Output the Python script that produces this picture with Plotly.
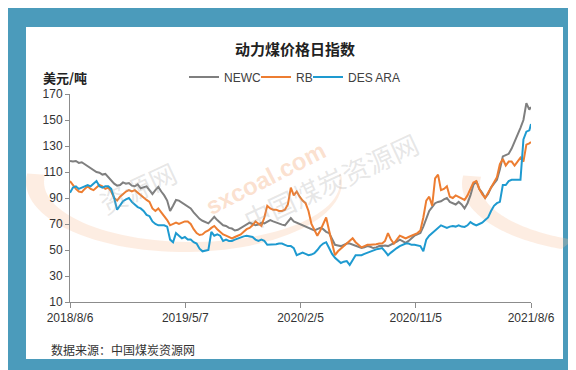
import numpy as np
import pandas as pd
import plotly.graph_objects as go

# weekly dates from 2018-08-06, last point 2021-08-06
dates = list(pd.date_range("2018-08-06", periods=157, freq="7D").strftime("%Y-%m-%d")) + ["2021-08-06"]

newc = [118.5, 118, 118.5, 117, 117.5, 116, 114.5, 113, 112, 110,
        109.5, 108, 108.5, 106, 104, 101, 99.5, 100, 102, 101,
        101.5, 99.5, 99, 100.5, 97.5, 98, 99, 96, 93, 96,
        98.5, 95, 92, 88, 80, 84, 88.5, 88, 86.5, 85,
        84, 82, 79, 76.5, 74, 72.5, 71.5, 70.5, 73, 75.5,
        73, 71, 69, 68.5, 67, 66.5, 65, 65.5, 67, 68.5,
        70, 71, 70, 69, 69.5, 71, 70.5, 72, 73, 72,
        71, 70, 69.5, 69, 72, 74.5, 72, 71, 70, 69,
        68, 67, 66, 65, 66, 67, 66, 64, 63, 59,
        54, 53.5, 53, 54, 55, 55, 54, 53, 52.5, 51.5,
        52, 53, 52.5, 51.5, 52, 53, 53, 53.5, 53, 54,
        55, 56.5, 58, 57, 55.5, 57, 59, 61, 62, 63,
        68, 74, 80, 83, 86, 87, 87.5, 89, 90, 87,
        86, 85, 87, 85, 82, 86, 92, 100, 103, 97,
        94, 90, 93, 98, 101, 104, 112, 122, 123, 124,
        128, 133, 138, 144, 150, 163, 158, 160]

rb = [103, 100, 97, 95, 94.5, 97, 99, 97, 96, 98,
      100, 99, 97, 98, 95, 90, 88, 91, 93, 95,
      96, 95, 96, 94, 92, 90, 88.5, 87, 82, 80,
      82, 79, 76, 73, 69, 70, 71, 70, 71, 72,
      72, 70, 66, 63, 61.5, 62, 64, 65, 67, 68.5,
      66, 64, 62, 61, 60, 59, 60, 61, 62, 64,
      66, 67, 69, 72, 70, 68.5, 75, 84, 82, 81,
      81, 80, 80, 81, 85, 98, 92, 95, 91, 88,
      86, 80, 70, 65, 61, 65, 70, 75, 65, 55,
      46, 49, 51, 53, 55, 57, 59, 56, 54, 52,
      53, 54, 54, 54, 54.5, 55, 55, 57, 63, 58,
      55, 58, 61, 60, 59, 60, 61, 62, 63, 65,
      75, 88, 91, 84, 105, 108, 96, 97, 99, 91,
      90, 92, 91, 90, 88.5, 92, 97, 102, 103, 97,
      93, 90, 94, 98, 103, 106, 116, 120, 115, 118,
      118, 115, 118, 121, 118, 131, 132, 133]

des_ara = [94, 98, 99, 97, 98, 99, 100, 99, 101, 103,
           99, 98, 99, 99, 97, 90, 81, 84, 87.5, 89,
           90, 87, 85, 83, 82, 80, 77, 76, 72, 70,
           69, 69, 69, 68, 58, 56, 63, 61, 59, 60,
           58, 58, 56, 55, 51, 49, 49.5, 50, 64, 61,
           62, 61, 57, 58, 57, 57, 58, 59, 60, 60.5,
           61, 60.5, 60, 58, 57, 58, 57, 54, 54, 54,
           54.5, 55, 55, 54, 53, 53, 51.5, 46, 47, 48,
           47, 46, 46.5, 47.5, 50, 53, 55, 56, 51.5, 47,
           44, 42, 40, 41, 41.5, 38.5, 42, 46, 46, 46,
           47, 48, 49, 50, 50.5, 51, 51.5, 49, 46, 48,
           50, 51.5, 53, 54, 55, 55, 54, 54, 53.5, 53,
           49, 58, 61, 63, 65, 67, 69, 68, 67, 68,
           68.5, 68, 69, 68, 67.7, 69, 71.5, 70, 69, 70,
           71, 73, 75, 80, 84, 86, 87, 100, 100, 103,
           104, 104, 104, 104, 135, 141, 142, 147]

series_names = ["NEWC", "RB", "DES ARA"]
series_colors = ["#7f7f7f", "#ed7d31", "#1e9ad0"]
tick_vals = ["2018-08-06", "2019-05-07", "2020-02-05", "2020-11-05", "2021-08-06"]
tick_text = ["2018/8/6", "2019/5/7", "2020/2/5", "2020/11/5", "2021/8/6"]
y_ticks = list(range(10, 171, 20))

W, H = 576, 370
L, R, T, B = 62, 53, 86, 76
pw, ph = W - L - R, H - T - B


def px(x):
    return (x - L) / pw


def py(y):
    return (H - B - y) / ph


def crescent(cx, cy, t0, t1):
    """faint watermark swoosh (lower part of an ellipse band, thick at its left end)"""
    t = np.linspace(t0, t1, 60)
    ox, oy = cx + 158 * np.cos(t), cy + 70 * np.sin(t)
    ix, iy = cx + 8 + 148 * np.cos(t[::-1]), cy + 60 * np.sin(t[::-1])
    xs = np.concatenate([ox, ix])
    ys = np.concatenate([oy, iy])
    pts = ["%s%.4f,%.4f" % ("M" if i == 0 else "L", px(a), py(b)) for i, (a, b) in enumerate(zip(xs, ys))]
    return dict(type="path", xref="paper", yref="paper", path=" ".join(pts) + " Z",
                fillcolor="rgba(247,190,150,0.28)", line=dict(width=0), layer="below")


legend_ids = ["legend", "legend2", "legend3"]
legend_left = [176, 248, 300]

fig = go.Figure()
for name, vals, col, lid in zip(series_names, [newc, rb, des_ara], series_colors, legend_ids):
    fig.add_trace(go.Scatter(x=dates, y=vals, mode="lines", name=name, legend=lid,
                             line=dict(color=col, width=2)))

axis_font = dict(family="Liberation Sans, Arial, sans-serif", size=12, color="#333333")
leg_font = dict(family="Liberation Sans, Arial, sans-serif", size=12, color="#404040")

legend_cfg = {}
for lid, lx in zip(legend_ids, legend_left):
    legend_cfg[lid] = dict(orientation="h", x=px(lx), xanchor="left", y=py(69),
                           yanchor="middle", font=leg_font, bgcolor="rgba(0,0,0,0)",
                           itemwidth=30)

wm = [
    dict(text="<b>sxcoal.com</b>", xref="paper", yref="paper", x=px(257), y=py(170),
         showarrow=False, textangle=-27,
         font=dict(family="Liberation Sans, Arial", size=24, color="rgba(246,175,130,0.38)")),
    dict(text="中国煤炭资源网", xref="paper", yref="paper", x=px(322), y=py(173),
         showarrow=False, textangle=-25,
         font=dict(family="Noto Sans CJK SC", size=27, color="rgba(160,160,160,0.26)")),
    dict(text="资源网", xref="paper", yref="paper", x=px(82), y=py(142),
         showarrow=False, textangle=-25,
         font=dict(family="Noto Sans CJK SC", size=27, color="rgba(160,160,160,0.26)")),
]

shapes = [dict(type="rect", xref="paper", yref="paper", x0=px(18), x1=px(555),
               y0=py(351), y1=py(19), fillcolor="white", line=dict(width=0), layer="below"),
          crescent(176, 174, -0.12, np.pi + 0.12),
          crescent(612, 176, 1.95, np.pi + 0.12)]

fig.update_layout(
    width=W, height=H,
    margin=dict(l=L, r=R, t=T, b=B),
    paper_bgcolor="#4b9bbb",
    plot_bgcolor="rgba(0,0,0,0)",
    showlegend=True,
    xaxis=dict(type="date", range=["2018-08-06", "2021-08-06"], tickvals=tick_vals,
               ticktext=tick_text, showgrid=False, zeroline=False, showline=True,
               linecolor="#8c8c8c", linewidth=1, ticks="outside", ticklen=5,
               tickcolor="#8c8c8c", tickfont=axis_font),
    yaxis=dict(range=[10, 170], tickvals=y_ticks, showgrid=False, zeroline=False,
               showline=True, linecolor="#8c8c8c", linewidth=1, ticks="outside",
               ticklen=4, tickcolor="#8c8c8c", tickfont=axis_font),
    title=dict(text="<b>动力煤价格日指数</b>", x=287 / W, xanchor="center",
               y=1 - 42 / H, yanchor="middle",
               font=dict(family="Noto Sans CJK SC", size=15, color="#222222")),
    shapes=shapes,
    annotations=wm + [
        dict(text="<b>美元/吨</b>", xref="paper", yref="paper", x=px(33), y=py(69),
             xanchor="left", yanchor="middle", showarrow=False,
             font=dict(family="Noto Sans CJK SC", size=13, color="#222222")),
        dict(text="数据来源：中国煤炭资源网", xref="paper", yref="paper", x=px(41), y=py(341),
             xanchor="left", yanchor="middle", showarrow=False,
             font=dict(family="Noto Sans CJK SC", size=12, color="#333333")),
    ],
    **legend_cfg,
)

fig.write_html("out.html")
